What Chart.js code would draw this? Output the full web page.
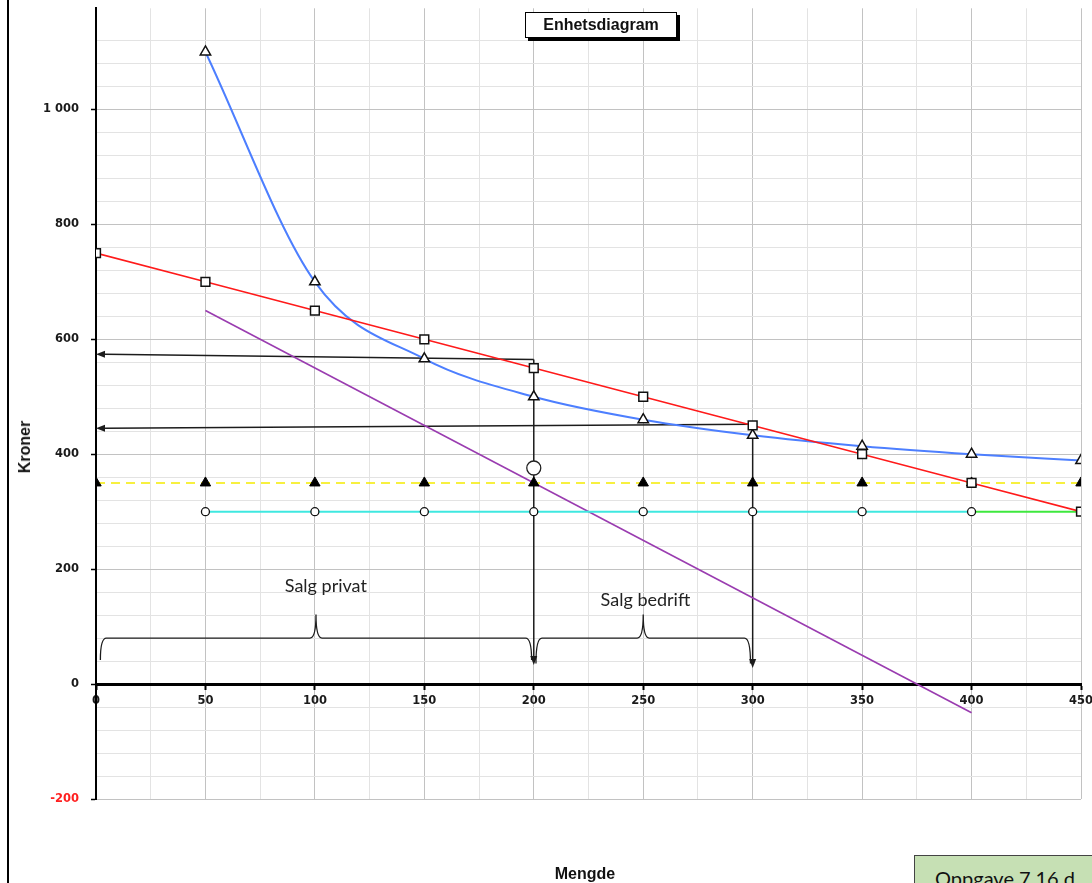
<!DOCTYPE html>
<html>
<head>
<meta charset="utf-8">
<script src="https://cdn.jsdelivr.net/npm/chart.js@4.4.1/dist/chart.umd.min.js"></script>
<style>
  html, body { margin: 0; padding: 0; background: #fff; }
  body { width: 1092px; height: 883px; position: relative; overflow: hidden; font-family: "Liberation Sans", Arial, sans-serif; }
  #chart { position: absolute; left: 0; top: 0; }
  .frame { position: absolute; left: 7px; top: 0; width: 2px; height: 883px; background: #000; }
  .title { position: absolute; left: 525px; top: 12px; width: 150px; height: 24px; border: 1.5px solid #000; background: #fff;
           box-shadow: 3px 3px 0 #000; font-weight: bold; font-size: 16px; line-height: 24px; text-align: center; color: #111; }
  .ylab { position: absolute; left: 25px; top: 447px; transform: translate(-50%, -50%) rotate(-90deg); font-weight: bold; font-size: 16px; color: #111; white-space: nowrap; }
  .xlab { position: absolute; left: 585px; top: 874px; transform: translate(-50%, -50%); font-weight: bold; font-size: 16px; color: #111; }
  .task { position: absolute; left: 914px; top: 855px; width: 190px; height: 40px; background: #c6e0b4; border: 1px solid #444;
          font-family: Lato, "Noto Sans", sans-serif; font-size: 20px; color: #111; padding-left: 20px; padding-top: 10px; box-sizing: border-box; white-space: nowrap; }
</style>
</head>
<body>
<div class="frame"></div>
<canvas id="chart" width="1092" height="883"></canvas>
<div class="title">Enhetsdiagram</div>
<div class="ylab">Kroner</div>
<div class="xlab">Mengde</div>
<div class="task">Oppgave 7.16 d</div>
<script>
// Quantities on the x axis
const mengde = [0, 50, 100, 150, 200, 250, 300, 350, 400, 450];
// Price per unit (red, squares)
const pris = [750, 700, 650, 600, 550, 500, 450, 400, 350, 300];
// Total unit cost (blue, open triangles), from 50 upwards
const enhetskostMengde = [50, 100, 150, 200, 250, 300, 350, 400, 450];
const enhetskost = [1100, 700, 566, 500, 460, 433, 414, 400, 389];
// Fixed price line (yellow dashed, filled triangles)
const fastPris = [350, 350, 350, 350, 350, 350, 350, 350, 350, 350];
// Variable unit cost (cyan, open circles) and its extension (green)
const varKostMengde = [50, 100, 150, 200, 250, 300, 350, 400];
const varKost = [300, 300, 300, 300, 300, 300, 300, 300];
const varKostForlMengde = [400, 450];
const varKostForl = [300, 300];
// Marginal revenue (purple)
const grenseMengde = [50, 400];
const grenseinntekt = [650, -50];
// Marked point
const markMengde = [200];
const markVerdi = [376];

// Arrows (from -> to)
const pilFraX = [200, 300, 200, 300];
const pilFraY = [565, 452, 565, 452];
const pilTilX = [0, 0, 200, 300];
const pilTilY = [574, 445, 33, 28];

// Braces under the sales ranges
const klammeFra = [2, 201];
const klammeTil = [199, 299];
const klammeTekst = ['Salg privat', 'Salg bedrift'];
const klammeTekstX = [105, 251];
const klammeTekstY = [170, 146];
const klammeBunn = [42, 36];
const klammeNivaa = 80;
const klammeTopp = 121;

// Axis labels
const xTickLabels = [0, 50, 100, 150, 200, 250, 300, 350, 400, 450];
const yTickLabels = [-200, 0, 200, 400, 600, 800, 1000];

const pts = (xs, ys) => xs.map((v, i) => ({ x: v, y: ys[i] }));

const tickFont = { family: '"DejaVu Sans", sans-serif', weight: 'bold', size: 11.5 };

const annotations = {
  id: 'annotations',
  beforeDatasetsDraw(chart) {
    const { ctx, scales: { x, y } } = chart;
    ctx.save();
    ctx.strokeStyle = '#1c1c1c';
    ctx.fillStyle = '#1c1c1c';
    ctx.lineWidth = 1.5;
    for (let i = 0; i < pilFraX.length; i++) {
      const x0 = x.getPixelForValue(pilFraX[i]), y0 = y.getPixelForValue(pilFraY[i]);
      const x1 = x.getPixelForValue(pilTilX[i]), y1 = y.getPixelForValue(pilTilY[i]);
      const a = Math.atan2(y1 - y0, x1 - x0);
      const len = 9, half = 3.5;
      const bx = x1 - len * Math.cos(a), by = y1 - len * Math.sin(a);
      ctx.beginPath(); ctx.moveTo(x0, y0); ctx.lineTo(bx, by); ctx.stroke();
      ctx.beginPath();
      ctx.moveTo(x1, y1);
      ctx.lineTo(bx + half * Math.sin(a), by - half * Math.cos(a));
      ctx.lineTo(bx - half * Math.sin(a), by + half * Math.cos(a));
      ctx.closePath(); ctx.fill();
    }
    // braces
    ctx.lineWidth = 1.3;
    const r = 6;
    for (let i = 0; i < klammeFra.length; i++) {
      const x0 = x.getPixelForValue(klammeFra[i]), x1 = x.getPixelForValue(klammeTil[i]);
      const xm = (x0 + x1) / 2;
      const yb = y.getPixelForValue(klammeNivaa), ye = y.getPixelForValue(klammeBunn[i]), yp = y.getPixelForValue(klammeTopp);
      ctx.beginPath();
      ctx.moveTo(x0, ye);
      ctx.quadraticCurveTo(x0, yb, x0 + r, yb);
      ctx.lineTo(xm - r, yb);
      ctx.quadraticCurveTo(xm, yb, xm, yp);
      ctx.quadraticCurveTo(xm, yb, xm + r, yb);
      ctx.lineTo(x1 - r, yb);
      ctx.quadraticCurveTo(x1, yb, x1, ye);
      ctx.stroke();
      ctx.font = '18px Lato, "Noto Sans", sans-serif';
      ctx.textAlign = 'center';
      ctx.textBaseline = 'middle';
      ctx.fillStyle = '#222';
      ctx.fillText(klammeTekst[i], x.getPixelForValue(klammeTekstX[i]), y.getPixelForValue(klammeTekstY[i]));
      ctx.fillStyle = '#1c1c1c';
    }
    ctx.restore();
  }
};

new Chart(document.getElementById('chart'), {
  type: 'line',
  data: {
    datasets: [
      { data: pts(markMengde, markVerdi), showLine: false, pointStyle: 'circle', pointRadius: 7,
        pointBackgroundColor: '#fff', pointBorderColor: '#222', pointBorderWidth: 1.3, order: 0 },
      { data: pts(mengde, pris), borderColor: '#ff1a1a', borderWidth: 1.6, pointStyle: 'rect', pointRadius: 6.2,
        pointBackgroundColor: '#fff', pointBorderColor: '#111', pointBorderWidth: 1.5, order: 1 },
      { data: pts(enhetskostMengde, enhetskost), borderColor: '#4d7fff', borderWidth: 2, cubicInterpolationMode: 'monotone',
        pointStyle: 'triangle', pointRadius: 6, pointBackgroundColor: '#fff', pointBorderColor: '#111', pointBorderWidth: 1.5, order: 2 },
      { data: pts(mengde, fastPris), borderColor: '#f5ec00', borderWidth: 1.6, borderDash: [9, 6],
        pointStyle: 'triangle', pointRadius: 6, pointBackgroundColor: '#000', pointBorderColor: '#000', pointBorderWidth: 1, order: 3 },
      { data: pts(varKostForlMengde, varKostForl), borderColor: '#3ee83e', borderWidth: 2, pointRadius: 0, order: 5 },
      { data: pts(varKostMengde, varKost), borderColor: '#3fe8e0', borderWidth: 2, pointStyle: 'circle', pointRadius: 4,
        pointBackgroundColor: '#fff', pointBorderColor: '#111', pointBorderWidth: 1.3, order: 4 },
      { data: pts(grenseMengde, grenseinntekt), borderColor: '#9a3cb0', borderWidth: 1.6, pointRadius: 0, order: 6 }
    ]
  },
  options: {
    responsive: false,
    animation: false,
    events: [],
    layout: { padding: { left: 0, right: 11, top: 8, bottom: 84 } },
    plugins: { legend: { display: false }, tooltip: { enabled: false }, title: { display: false } },
    scales: {
      x: {
        type: 'linear', min: 0, max: 450, position: { y: 0 },
        afterFit: s => { s.height = 0; s.paddingLeft = 0; s.paddingRight = 0; },
        ticks: {
          stepSize: 25, autoSkip: false, maxRotation: 0, padding: 6,
          callback: v => (xTickLabels.includes(v) ? String(v) : ''),
          font: tickFont, color: '#1a1a1a'
        },
        grid: {
          color: c => (c.tick && c.tick.value % 50 === 0 ? '#c2c2c2' : '#e3e3e3'),
          tickColor: c => (c.tick && c.tick.value % 50 === 0 ? '#000' : 'rgba(0,0,0,0)'),
          tickLength: 4, tickWidth: 2, lineWidth: 1
        },
        border: { color: '#000', width: 3 }
      },
      y: {
        type: 'linear', min: -200, max: 1176,
        afterFit: s => { s.width = 96; s.paddingTop = 0; s.paddingBottom = 0; },
        afterBuildTicks: s => { s.ticks = s.ticks.filter(t => Math.abs(t.value % 40) < 1e-6); },
        ticks: {
          stepSize: 40, autoSkip: false, padding: 12,
          callback: v => (yTickLabels.includes(v) ? (v >= 1000 ? '1 000' : String(v)) : ''),
          font: tickFont,
          color: c => (c.tick && c.tick.value < 0 ? '#ff2020' : '#1a1a1a')
        },
        grid: {
          color: c => (c.tick && c.tick.value % 200 === 0 ? '#c2c2c2' : '#e3e3e3'),
          tickColor: c => (c.tick && c.tick.value % 200 === 0 ? '#000' : 'rgba(0,0,0,0)'),
          tickLength: 5, tickWidth: 1.5, lineWidth: 1
        },
        border: { color: '#000', width: 2 }
      }
    }
  },
  plugins: [annotations]
});
</script>
</body>
</html>
